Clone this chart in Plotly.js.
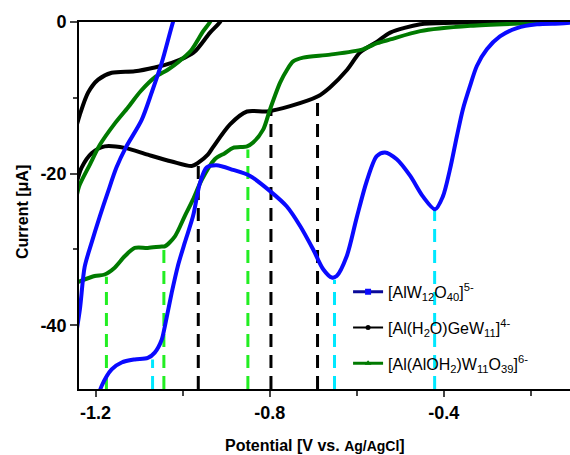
<!DOCTYPE html>
<html>
<head>
<meta charset="utf-8">
<script src="https://cdn.plot.ly/plotly-3.0.1.min.js"></script>
<style>html,body{margin:0;padding:0;background:#fff;}#chart{width:570px;height:455px;}</style>
</head>
<body>
<div id="chart"></div>
<script>
// [AlW12O40]5- : cathodic (forward) branch and return branch
const blueFwdV = [-0.11, -0.133, -0.186, -0.232, -0.271, -0.301, -0.324, -0.340, -0.356, -0.370, -0.386, -0.402, -0.420, -0.448, -0.477, -0.508, -0.535, -0.554, -0.577, -0.600, -0.623, -0.646, -0.657, -0.677, -0.700, -0.730, -0.761, -0.799, -0.845, -0.884, -0.922, -0.945, -0.960, -0.976, -0.995, -1.011, -1.025, -1.041, -1.048, -1.064, -1.080, -1.110, -1.140, -1.163, -1.186, -1.200];
const blueFwdI = [-0.1, -0.2, -0.3, -0.8, -1.9, -3.6, -5.8, -8.5, -11.5, -15.1, -19.5, -23.0, -24.7, -23.0, -20.3, -18.1, -17.2, -17.7, -21.0, -25.8, -30.9, -33.5, -33.7, -32.6, -30.0, -26.9, -24.3, -22.3, -20.3, -19.5, -18.9, -19.2, -21.2, -25.6, -29.1, -32.2, -35.7, -40.2, -41.9, -43.6, -44.3, -44.5, -44.9, -45.8, -48.0, -50.5];
const blueRetV = [-1.25, -1.236, -1.225, -1.209, -1.190, -1.172, -1.152, -1.130, -1.094, -1.071, -1.048, -1.022, -1.005];
const blueRetI = [-43.0, -37.9, -32.3, -29.1, -25.6, -22.5, -19.2, -16.5, -12.9, -9.3, -5.4, 0.0, 3.0];

// [Al(H2O)GeW11]4-
const blackFwdV = [-1.245, -1.232, -1.209, -1.179, -1.133, -1.080, -1.025, -0.979, -0.965, -0.942, -0.930, -0.891, -0.852, -0.806, -0.753, -0.689, -0.661, -0.622, -0.592, -0.553, -0.523, -0.454, -0.379, -0.25, -0.11];
const blackFwdI = [-21.5, -19.2, -17.3, -16.4, -16.6, -17.5, -18.4, -19.0, -18.6, -17.5, -16.5, -13.5, -11.8, -11.8, -11.1, -9.8, -8.6, -6.3, -4.0, -2.6, -1.4, -0.3, -0.1, 0, 0];
const blackRetV = [-1.245, -1.236, -1.217, -1.194, -1.163, -1.110, -1.064, -1.025, -0.995, -0.972, -0.937, -0.914, -0.90];
const blackRetI = [-14.0, -12.2, -9.3, -7.6, -6.7, -6.5, -6.0, -5.4, -4.7, -3.9, -1.4, 0, 1.5];

// [Al(AlOH2)W11O39]6-
const greenFwdV = [-1.245, -1.236, -1.202, -1.179, -1.156, -1.133, -1.110, -1.080, -1.048, -1.041, -1.018, -0.995, -0.976, -0.956, -0.926, -0.903, -0.884, -0.852, -0.838, -0.815, -0.799, -0.776, -0.760, -0.746, -0.723, -0.661, -0.586, -0.553, -0.523, -0.454, -0.339, -0.225, -0.11];
const greenFwdI = [-34.4, -34.2, -33.5, -33.3, -32.4, -30.9, -29.8, -29.8, -29.6, -29.6, -28.3, -25.6, -23.4, -20.8, -18.1, -17.3, -16.6, -16.4, -15.9, -14.2, -11.5, -8.0, -6.3, -5.2, -4.7, -4.3, -3.6, -2.8, -2.3, -1.2, -0.5, -0.2, 0];
const greenRetV = [-1.245, -1.238, -1.213, -1.190, -1.156, -1.126, -1.096, -1.064, -1.034, -1.008, -0.981, -0.953, -0.937, -0.925];
const greenRetI = [-23.5, -21.7, -18.8, -16.2, -13.4, -11.3, -9.1, -7.3, -6.3, -5.2, -3.8, -1.25, 0, 1.5];

// dashed peak markers
const dashV = [-1.175, -1.069, -1.043, -0.964, -0.850, -0.797, -0.690, -0.651, -0.421];
const dashTop = [-33.6, -44.5, -29.8, -18.6, -16.8, -11.8, -9.8, -34.0, -24.7];
const dashColor = ['#22ee22', '#00e8ff', '#22ee22', '#000000', '#22ee22', '#000000', '#000000', '#00e8ff', '#00e8ff'];

// ticks
const xTickVals = [-1.2, -0.8, -0.4];
const xTickText = ['-1.2', '-0.8', '-0.4'];
const xMinorVals = [-1.0, -0.6, -0.2];
const yTickVals = [0, -20, -40];
const yTickText = ['0', '-20', '-40'];
const yMinorVals = [-10, -30];

const legendNames = ['[AlW<sub>12</sub>O<sub>40</sub>]<sup>5-</sup>', '[Al(H<sub>2</sub>O)GeW<sub>11</sub>]<sup>4-</sup>', '[Al(AlOH<sub>2</sub>)W<sub>11</sub>O<sub>39</sub>]<sup>6-</sup>'];

const yMin = -48.4, yMax = 0;
const xMin = -1.238, xMax = -0.11;

const traces = [];
dashV.forEach((v, i) => {
  traces.push({x: [v, v], y: [yMin, dashTop[i]], mode: 'lines', showlegend: false, hoverinfo: 'skip',
    line: {color: dashColor[i], width: 3, dash: '13px,8px'}});
});
const blk = '#000000', grn = '#007a00', blu = '#0a0aff';
const ln = (c) => ({color: c, width: 4, shape: 'spline', smoothing: 0.8});
traces.push({x: blackFwdV, y: blackFwdI, mode: 'lines', line: ln(blk), showlegend: false});
traces.push({x: blackRetV, y: blackRetI, mode: 'lines', line: ln(blk), showlegend: false});
traces.push({x: greenFwdV, y: greenFwdI, mode: 'lines', line: ln(grn), showlegend: false});
traces.push({x: greenRetV, y: greenRetI, mode: 'lines', line: ln(grn), showlegend: false});
traces.push({x: blueFwdV, y: blueFwdI, mode: 'lines', line: ln(blu), showlegend: false});
traces.push({x: blueRetV, y: blueRetI, mode: 'lines', line: ln(blu), showlegend: false});

// legend entries
traces.push({x: [null], y: [null], name: legendNames[0], legendgroup: 'a', mode: 'lines+markers',
  line: {color: '#0a0a99', width: 3}, marker: {symbol: 'square', color: blu, size: 6}});
traces.push({x: [null], y: [null], name: legendNames[1], legendgroup: 'b', mode: 'lines+markers',
  line: {color: blk, width: 2}, marker: {symbol: 'circle', color: blk, size: 5}});
traces.push({x: [null], y: [null], name: legendNames[2], legendgroup: 'c', mode: 'lines+markers',
  line: {color: grn, width: 3}, marker: {symbol: 'triangle-up', color: grn, size: 6}});

const fam = 'Arial, Liberation Sans, sans-serif';
const layout = {
  width: 570, height: 455,
  margin: {l: 79, r: 0, t: 22, b: 66},
  paper_bgcolor: '#ffffff', plot_bgcolor: '#ffffff',
  font: {family: fam, color: '#000'},
  showlegend: true,
  legend: {x: 0.548, y: 0.311, xanchor: 'left', yanchor: 'top', bgcolor: 'rgba(0,0,0,0)',
    font: {size: 16, family: fam, color: '#000'}, tracegroupgap: 12, traceorder: 'grouped'},
  xaxis: {
    range: [xMin, xMax], tickmode: 'array', tickvals: xTickVals, ticktext: xTickText,
    ticks: 'outside', ticklen: 6, tickwidth: 2,
    showline: true, linewidth: 2, linecolor: '#000', mirror: true, showgrid: false, zeroline: false,
    tickfont: {size: 18, family: fam, weight: 'bold'},
    minor: {tickmode: 'array', tickvals: xMinorVals, ticks: 'outside', ticklen: 5, tickwidth: 2, showgrid: false}
  },
  yaxis: {
    range: [yMin, yMax], tickmode: 'array', tickvals: yTickVals, ticktext: yTickText,
    ticks: 'outside', ticklen: 7, tickwidth: 2,
    showline: true, linewidth: 2, linecolor: '#000', mirror: false, showgrid: false, zeroline: false,
    tickfont: {size: 18, family: fam, weight: 'bold'},
    minor: {tickmode: 'array', tickvals: yMinorVals, ticks: 'outside', ticklen: 4, tickwidth: 2, showgrid: false}
  },
  annotations: [
    {xref: 'paper', yref: 'paper', x: (315 - 79) / 491, y: -(445 - 389) / 367, xanchor: 'center', yanchor: 'middle', showarrow: false,
      text: '<b>Potential [V vs. <span style="font-size:14px">Ag/AgCl</span>]</b>', font: {size: 16}},
    {xref: 'paper', yref: 'paper', x: (22 - 79) / 491, y: (389 - 212) / 367, xanchor: 'center', yanchor: 'middle', showarrow: false,
      textangle: -90, text: '<b>Current [μA]</b>', font: {size: 16}}
  ]
};

Plotly.newPlot('chart', traces, layout, {staticPlot: true, displayModeBar: false});
</script>
</body>
</html>
